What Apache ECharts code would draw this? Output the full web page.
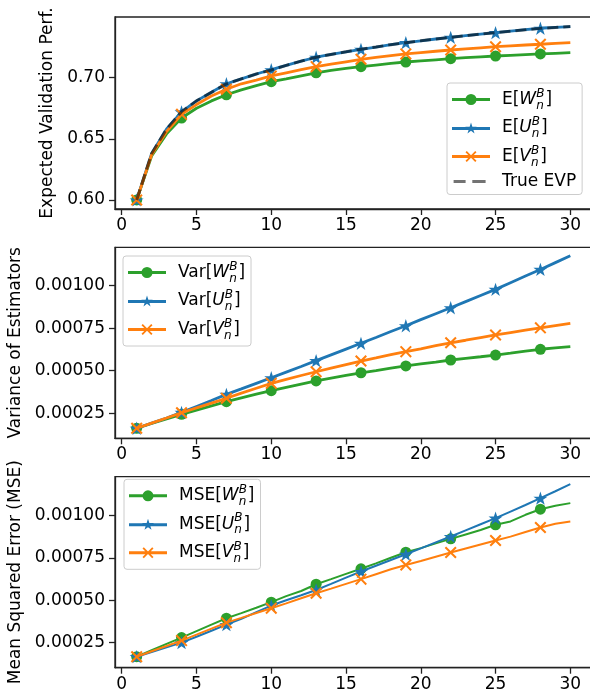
<!DOCTYPE html>
<html><head><meta charset="utf-8">
<script src="https://cdn.jsdelivr.net/npm/echarts@6/dist/echarts.min.js"></script>
<style>html,body{margin:0;padding:0;background:#fff}#c{width:590px;height:696px}</style>
</head><body><div id="c"></div>
<script>
// ---------- data ----------
const xs = [1,2,3,4,5,6,7,8,9,10,11,12,13,14,15,16,17,18,19,20,21,22,23,24,25,26,27,28,29,30];
const xTicks = [0,5,10,15,20,25,30];
const yTicksEvp = [0.60,0.65,0.70];
const yTicksVar = [0.00025,0.0005,0.00075,0.001];
const yTicksMse = [0.00025,0.0005,0.00075,0.001];

const evpW = [0.600,0.636,0.654,0.667,0.675,0.681,0.686,0.690,0.6935,0.6967,0.699,0.7015,0.704,0.706,0.7075,0.709,0.7103,0.7116,0.7128,0.7137,0.7146,0.7155,0.7163,0.717,0.7177,0.7183,0.7189,0.7194,0.7199,0.7204];
const evpU = [0.600,0.638,0.658,0.672,0.681,0.688,0.695,0.699,0.703,0.7065,0.710,0.7135,0.7167,0.719,0.721,0.7232,0.725,0.727,0.7286,0.730,0.7316,0.733,0.7343,0.7356,0.7368,0.738,0.7392,0.7404,0.7411,0.7417];
const evpV = [0.600,0.637,0.656,0.670,0.678,0.685,0.6905,0.695,0.698,0.7014,0.704,0.7065,0.709,0.711,0.713,0.715,0.7165,0.718,0.7194,0.7205,0.7216,0.7226,0.7235,0.7244,0.7253,0.726,0.7267,0.7273,0.728,0.7286];
const evpTrue = [0.600,0.638,0.658,0.6722,0.681,0.688,0.6949,0.699,0.703,0.7063,0.710,0.7135,0.7167,0.719,0.7212,0.7232,0.725,0.727,0.7286,0.7302,0.7316,0.733,0.7343,0.7356,0.7368,0.738,0.7392,0.7403,0.7411,0.7418];

const varW = [0.000162,0.000190,0.000217,0.000244,0.000269,0.000294,0.000318,0.000340,0.000362,0.000383,0.000402,0.000421,0.000440,0.000456,0.000472,0.000488,0.000501,0.000515,0.000528,0.000540,0.000551,0.000563,0.000573,0.000582,0.000592,0.000603,0.000615,0.000626,0.000634,0.000641];
const varU = [0.000162,0.000192,0.000222,0.000255,0.000290,0.000325,0.000361,0.000393,0.000426,0.000459,0.000492,0.000525,0.000559,0.000593,0.000627,0.000661,0.000695,0.000730,0.000764,0.000800,0.000835,0.000870,0.000906,0.000942,0.000978,0.001017,0.001056,0.001095,0.001135,0.001175];
const varV = [0.000162,0.000192,0.000222,0.000253,0.000282,0.000310,0.000338,0.000368,0.000397,0.000426,0.000449,0.000472,0.000494,0.000515,0.000536,0.000557,0.000575,0.000594,0.000612,0.000629,0.000647,0.000664,0.000679,0.000695,0.000710,0.000724,0.000738,0.000752,0.000765,0.000778];

const mseW = [0.000167,0.000205,0.000243,0.000280,0.000318,0.000356,0.000394,0.000424,0.000456,0.000489,0.000525,0.000555,0.000595,0.000625,0.000656,0.000686,0.000718,0.000751,0.000784,0.000808,0.000836,0.000863,0.000889,0.000915,0.000946,0.000966,0.001005,0.001038,0.001059,0.001074];
const mseU = [0.000167,0.000194,0.000222,0.000250,0.000285,0.000320,0.000356,0.000390,0.000430,0.000469,0.000500,0.000530,0.000561,0.000597,0.000634,0.000670,0.000704,0.000738,0.000772,0.000807,0.000842,0.000877,0.000913,0.000949,0.000985,0.001024,0.001063,0.001103,0.001144,0.001186];
const mseV = [0.000167,0.000199,0.000230,0.000262,0.000297,0.000333,0.000368,0.000396,0.000425,0.000453,0.000482,0.000512,0.000542,0.000569,0.000597,0.000625,0.000654,0.000683,0.000709,0.000732,0.000757,0.000782,0.000806,0.000830,0.000853,0.000876,0.000903,0.000930,0.000952,0.000965];

// ---------- styles ----------
const F = 'DejaVu Sans';
const FS = 17;
const C_W = '#2ca02c', C_U = '#1f77b4', C_V = '#ff7f0e';
const STAR = 'path://M5 0L6.123 3.455L9.755 3.455L6.817 5.59L7.939 9.045L5 6.91L2.061 9.045L3.183 5.59L0.245 3.455L3.877 3.455Z';
const XMARK = 'path://M1.2 0L5 3.8L8.8 0L10 1.2L6.2 5L10 8.8L8.8 10L5 6.2L1.2 10L0 8.8L3.8 5L0 1.2Z';
const ICON_CIRCLE = 'path://M0 4.5L38 4.5L38 7.5L0 7.5Z M13.5 6A5.5 5.5 0 1 1 24.5 6A5.5 5.5 0 1 1 13.5 6Z';
const ICON_STAR = 'path://M0 4.5L38 4.5L38 7.5L0 7.5Z M19 0L20.346 4.147L24.706 4.146L21.178 6.708L22.527 10.854L19 8.29L15.473 10.854L16.822 6.708L13.294 4.146L17.654 4.147Z';
const ICON_X = 'path://M0 4.5L38 4.5L38 7.5L0 7.5Z M14.8 0.5L19 4.7L23.2 0.5L24.5 1.8L20.3 6L24.5 10.2L23.2 11.5L19 7.3L14.8 11.5L13.5 10.2L17.7 6L13.5 1.8Z';
const ICON_DASH = 'path://M0 5.99L0.02 5.99L0.01 6.01Z M1.6 4.6L13.6 4.6L13.6 7.4L1.6 7.4Z M20.3 4.6L33.6 4.6L33.6 7.4L20.3 7.4Z M37.98 5.99L38 5.99L37.99 6.01Z';

const grids = [
  {top: 17, height: 192},
  {top: 247.3, height: 191},
  {top: 476.7, height: 191}
].map(g => Object.assign({left: 115, right: -2, show: true, borderColor: '#222', borderWidth: 1.3,
  backgroundColor: 'rgba(0,0,0,0)', containLabel: false, outerBoundsMode: 'none'}, g));

const labelStyle = {fontSize: FS, fontFamily: F, color: '#000'};
const tickStyle = {show: true, length: 6, lineStyle: {color: '#222', width: 1.3}};
const axisLineStyle = {show: true, onZero: false, lineStyle: {color: '#222', width: 1.3}};

const xAxes = [0,1,2].map(i => ({
  type: 'value', gridIndex: i, min: -0.45, max: 31.45,
  splitLine: {show: false},
  axisLine: axisLineStyle,
  axisTick: Object.assign({customValues: xTicks}, tickStyle),
  axisLabel: Object.assign({customValues: xTicks, margin: 8, formatter: v => String(v)}, labelStyle)
}));

function yAxis(i, min, max, ticks, dec, name, gap) {
  return {
    type: 'value', gridIndex: i, min: min, max: max,
    name: name, nameLocation: 'middle', nameRotate: 90, nameGap: gap,
    nameTextStyle: {fontSize: FS, fontFamily: F, color: '#000'},
    splitLine: {show: false},
    axisLine: axisLineStyle,
    axisTick: Object.assign({customValues: ticks}, tickStyle),
    axisLabel: Object.assign({customValues: ticks, margin: 10, formatter: v => Number(v).toFixed(dec)}, labelStyle)
  };
}
const yAxes = [
  yAxis(0, 0.5926, 0.7496, yTicksEvp, 2, 'Expected Validation Perf.', 51),
  yAxis(1, 0.000103, 0.001225, yTicksVar, 5, 'Variance of Estimators', 86),
  yAxis(2, 0.000102, 0.00123, yTicksMse, 5, 'Mean Squared Error (MSE)', 86)
];

function pts(ys) {
  return xs.map((x, i) => i % 3 === 0 ? [x, ys[i]] : {value: [x, ys[i]], symbol: 'none'});
}
function line(name, ys, gi, color, symbol, size, width, z) {
  return {
    type: 'line', name: name, xAxisIndex: gi, yAxisIndex: gi, data: pts(ys),
    symbol: symbol, symbolSize: size, symbolKeepAspect: true, showSymbol: true,
    lineStyle: {color: color, width: width}, itemStyle: {color: color, borderWidth: 0},
    z: z, silent: true, animation: false, emphasis: {disabled: true}
  };
}

const series = [
  line('E[W_n^B]', evpW, 0, C_W, 'circle', 11, 2.8, 2),
  line('E[U_n^B]', evpU, 0, C_U, STAR, 14, 2.8, 3),
  line('E[V_n^B]', evpV, 0, C_V, XMARK, 12, 2.8, 4),
  {
    type: 'line', name: 'True EVP', xAxisIndex: 0, yAxisIndex: 0,
    data: xs.map((x, i) => [x, evpTrue[i]]), symbol: 'none',
    lineStyle: {color: 'rgba(0,0,0,0.55)', width: 3, type: [11, 5]},
    itemStyle: {color: 'rgba(0,0,0,0.55)', borderWidth: 0}, z: 5, silent: true, animation: false
  },
  line('Var[W_n^B]', varW, 1, C_W, 'circle', 11, 2.8, 2),
  line('Var[U_n^B]', varU, 1, C_U, STAR, 14, 2.8, 3),
  line('Var[V_n^B]', varV, 1, C_V, XMARK, 12, 2.8, 4),
  line('MSE[W_n^B]', mseW, 2, C_W, 'circle', 11, 2, 2),
  line('MSE[U_n^B]', mseU, 2, C_U, STAR, 14, 2, 3),
  line('MSE[V_n^B]', mseV, 2, C_V, XMARK, 12, 2, 4)
];

const rich = {
  r: {fontSize: FS, fontFamily: F, color: '#000', lineHeight: 24},
  i: {fontSize: FS, fontFamily: F, fontStyle: 'italic', color: '#000', lineHeight: 24},
  sub: {fontSize: 12, fontFamily: F, fontStyle: 'italic', color: '#000', lineHeight: 12, verticalAlign: 'bottom', width: 0},
  sup: {fontSize: 12, fontFamily: F, fontStyle: 'italic', color: '#000', lineHeight: 12, verticalAlign: 'top', padding: [0, 1, 0, 0]}
};
function fmt(name) {
  const m = name.match(/^(\w+)\[(\w)_n\^B\]$/);
  if (m) return '{r|' + m[1] + '[}{i|' + m[2] + '}{sub|n}{sup|B}{r|]}';
  return '{r|' + name + '}';
}
function legend(names, icons, left, top) {
  return {
    orient: 'vertical', left: left, top: top, z: 10,
    data: names.map((n, k) => ({name: n, icon: icons[k]})),
    itemWidth: 38, itemHeight: 12, itemGap: 4.5, padding: [4.5, 6, 4.5, 5],
    backgroundColor: 'rgba(255,255,255,0.8)', borderColor: '#cccccc', borderWidth: 1, borderRadius: 3,
    selectedMode: false, formatter: fmt, itemStyle: {borderWidth: 0},
    textStyle: {padding: [0, 0, 0, 7], rich: rich, fontSize: FS, fontFamily: F, color: '#000'}
  };
}
const legends = [
  legend(['E[W_n^B]', 'E[U_n^B]', 'E[V_n^B]', 'True EVP'], [ICON_CIRCLE, ICON_STAR, ICON_X, ICON_DASH], 447, 83),
  legend(['Var[W_n^B]', 'Var[U_n^B]', 'Var[V_n^B]'], [ICON_CIRCLE, ICON_STAR, ICON_X], 123, 256),
  legend(['MSE[W_n^B]', 'MSE[U_n^B]', 'MSE[V_n^B]'], [ICON_CIRCLE, ICON_STAR, ICON_X], 124, 479.3)
];

const chart = echarts.init(document.getElementById('c'));
chart.setOption({
  animation: false,
  backgroundColor: '#fff',
  grid: grids,
  xAxis: xAxes,
  yAxis: yAxes,
  legend: legends,
  series: series
});
</script></body></html>
